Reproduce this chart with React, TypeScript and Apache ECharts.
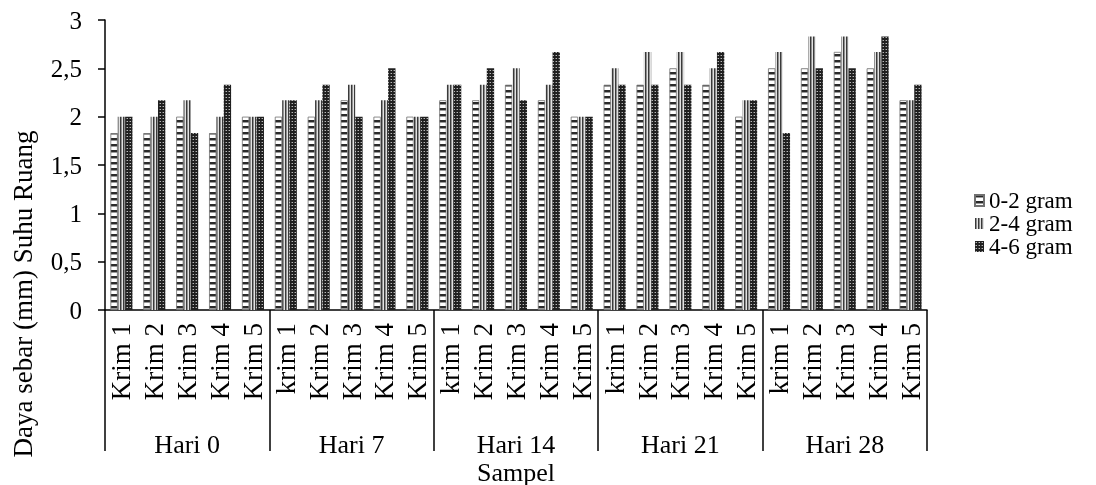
import React, { useEffect, useRef } from "react";
import * as echarts from "echarts";

const krimLabels = [
  "Krim 1", "Krim 2", "Krim 3", "Krim 4", "Krim 5",
  "krim 1", "Krim 2", "Krim 3", "Krim 4", "Krim 5",
  "krim 1", "Krim 2", "Krim 3", "Krim 4", "Krim 5",
  "krim 1", "Krim 2", "Krim 3", "Krim 4", "Krim 5",
  "krim 1", "Krim 2", "Krim 3", "Krim 4", "Krim 5",
];
const hariLabels = ["Hari 0", "Hari 7", "Hari 14", "Hari 21", "Hari 28"];
const seriesNames = ["0-2 gram", "2-4 gram", "4-6 gram"];

const gram02 = [
  1.83, 1.83, 2.0, 1.83, 2.0,
  2.0, 2.0, 2.17, 2.0, 2.0,
  2.17, 2.17, 2.33, 2.17, 2.0,
  2.33, 2.33, 2.5, 2.33, 2.0,
  2.5, 2.5, 2.67, 2.5, 2.17,
];
const gram24 = [
  2.0, 2.0, 2.17, 2.0, 2.0,
  2.17, 2.17, 2.33, 2.17, 2.0,
  2.33, 2.33, 2.5, 2.33, 2.0,
  2.5, 2.67, 2.67, 2.5, 2.17,
  2.67, 2.83, 2.83, 2.67, 2.17,
];
const gram46 = [
  2.0, 2.17, 1.83, 2.33, 2.0,
  2.17, 2.33, 2.0, 2.5, 2.0,
  2.33, 2.5, 2.17, 2.67, 2.0,
  2.33, 2.33, 2.33, 2.67, 2.17,
  1.83, 2.5, 2.5, 2.83, 2.33,
];

const yTicks = { min: 0, max: 3, interval: 0.5 };
const FONT = "'Liberation Serif', 'Times New Roman', serif";

function makePattern(w: number, h: number, draw: (c: CanvasRenderingContext2D) => void) {
  const cv = document.createElement("canvas");
  cv.width = w;
  cv.height = h;
  const ctx = cv.getContext("2d")!;
  draw(ctx);
  return { image: cv, repeat: "repeat", imageWidth: w, imageHeight: h };
}

export default function App() {
  const ref = useRef<HTMLDivElement>(null);
  useEffect(() => {
    if (!ref.current) return;
    const chart = echarts.init(ref.current, null, { renderer: "svg" });

    const p02 = makePattern(4, 6, (c) => {
      c.fillStyle = "#ffffff";
      c.fillRect(0, 0, 4, 6);
      c.fillStyle = "#2a2a2a";
      c.fillRect(0, 0, 4, 2);
      c.fillStyle = "#9a9a9a";
      c.fillRect(0, 2, 4, 1);
    });
    const p24 = makePattern(3, 4, (c) => {
      c.fillStyle = "#e2e2e2";
      c.fillRect(0, 0, 3, 4);
      c.fillStyle = "#3a3a3a";
      c.fillRect(0, 0, 1, 4);
      c.fillStyle = "#909090";
      c.fillRect(1, 0, 1, 4);
    });
    const p46 = makePattern(3, 3, (c) => {
      c.fillStyle = "#202020";
      c.fillRect(0, 0, 3, 3);
      c.fillStyle = "#b8b8b8";
      c.fillRect(1, 1, 1, 1);
      c.fillStyle = "#606060";
      c.fillRect(0, 1, 1, 1);
    });

    const styles = [
      { color: p02, borderColor: "#707070", borderWidth: 0.8 },
      { color: p24 },
      { color: p46 },
    ];
    const datas = [gram02, gram24, gram46];
    chart.setOption({
      animation: false,
      textStyle: { fontFamily: FONT, color: "#000" },
      grid: { left: 105, right: 169, top: 20, bottom: 175, containLabel: false },
      legend: {
        orient: "vertical",
        left: 969,
        top: 184,
        itemWidth: 9,
        itemHeight: 11,
        itemGap: 0,
        icon: "rect",
        textStyle: { fontFamily: FONT, fontSize: 23, lineHeight: 23, color: "#000" },
        data: seriesNames,
      },
      xAxis: [
        {
          type: "category",
          data: krimLabels,
          position: "bottom",
          axisLine: { show: true, lineStyle: { color: "#000", width: 1.5 } },
          axisTick: { show: false },
          axisLabel: {
            interval: 0,
            rotate: 90,
            margin: 13,
            fontFamily: FONT,
            fontSize: 27,
            color: "#000",
          },
        },
        {
          type: "category",
          data: hariLabels,
          position: "bottom",
          axisLine: { show: false },
          axisTick: {
            show: true,
            length: 141,
            interval: 0,
            lineStyle: { color: "#000", width: 1.5 },
          },
          axisLabel: {
            interval: 0,
            margin: 121,
            fontFamily: FONT,
            fontSize: 26,
            color: "#000",
          },
        },
      ],
      yAxis: {
        type: "value",
        min: yTicks.min,
        max: yTicks.max,
        interval: yTicks.interval,
        axisLine: { show: true, lineStyle: { color: "#000", width: 1.5 } },
        axisTick: { show: true, length: 7, lineStyle: { color: "#000", width: 1.5 } },
        splitLine: { show: false },
        axisLabel: {
          margin: 23,
          fontFamily: FONT,
          fontSize: 25,
          color: "#000",
          formatter: (v: number) => String(v).replace(".", ","),
        },
      },
      series: seriesNames.map((name, i) => ({
        name,
        type: "bar",
        xAxisIndex: 0,
        data: datas[i],
        barGap: "0%",
        barCategoryGap: "33%",
        itemStyle: styles[i],
      })),
      graphic: [
        {
          type: "text",
          x: 23,
          y: 294,
          rotation: Math.PI / 2,
          style: {
            text: "Daya sebar (mm) Suhu Ruang",
            fontFamily: FONT,
            fontSize: 27,
            fill: "#000",
            align: "center",
            verticalAlign: "middle",
          },
        },
        {
          type: "text",
          x: 516,
          y: 472,
          style: {
            text: "Sampel",
            fontFamily: FONT,
            fontSize: 26,
            fill: "#000",
            align: "center",
            verticalAlign: "middle",
          },
        },
      ],
    });
    return () => chart.dispose();
  }, []);
  return (
    <div
      ref={ref}
      style={{ position: "fixed", left: 0, top: 0, width: 1096, height: 485 }}
    />
  );
}
